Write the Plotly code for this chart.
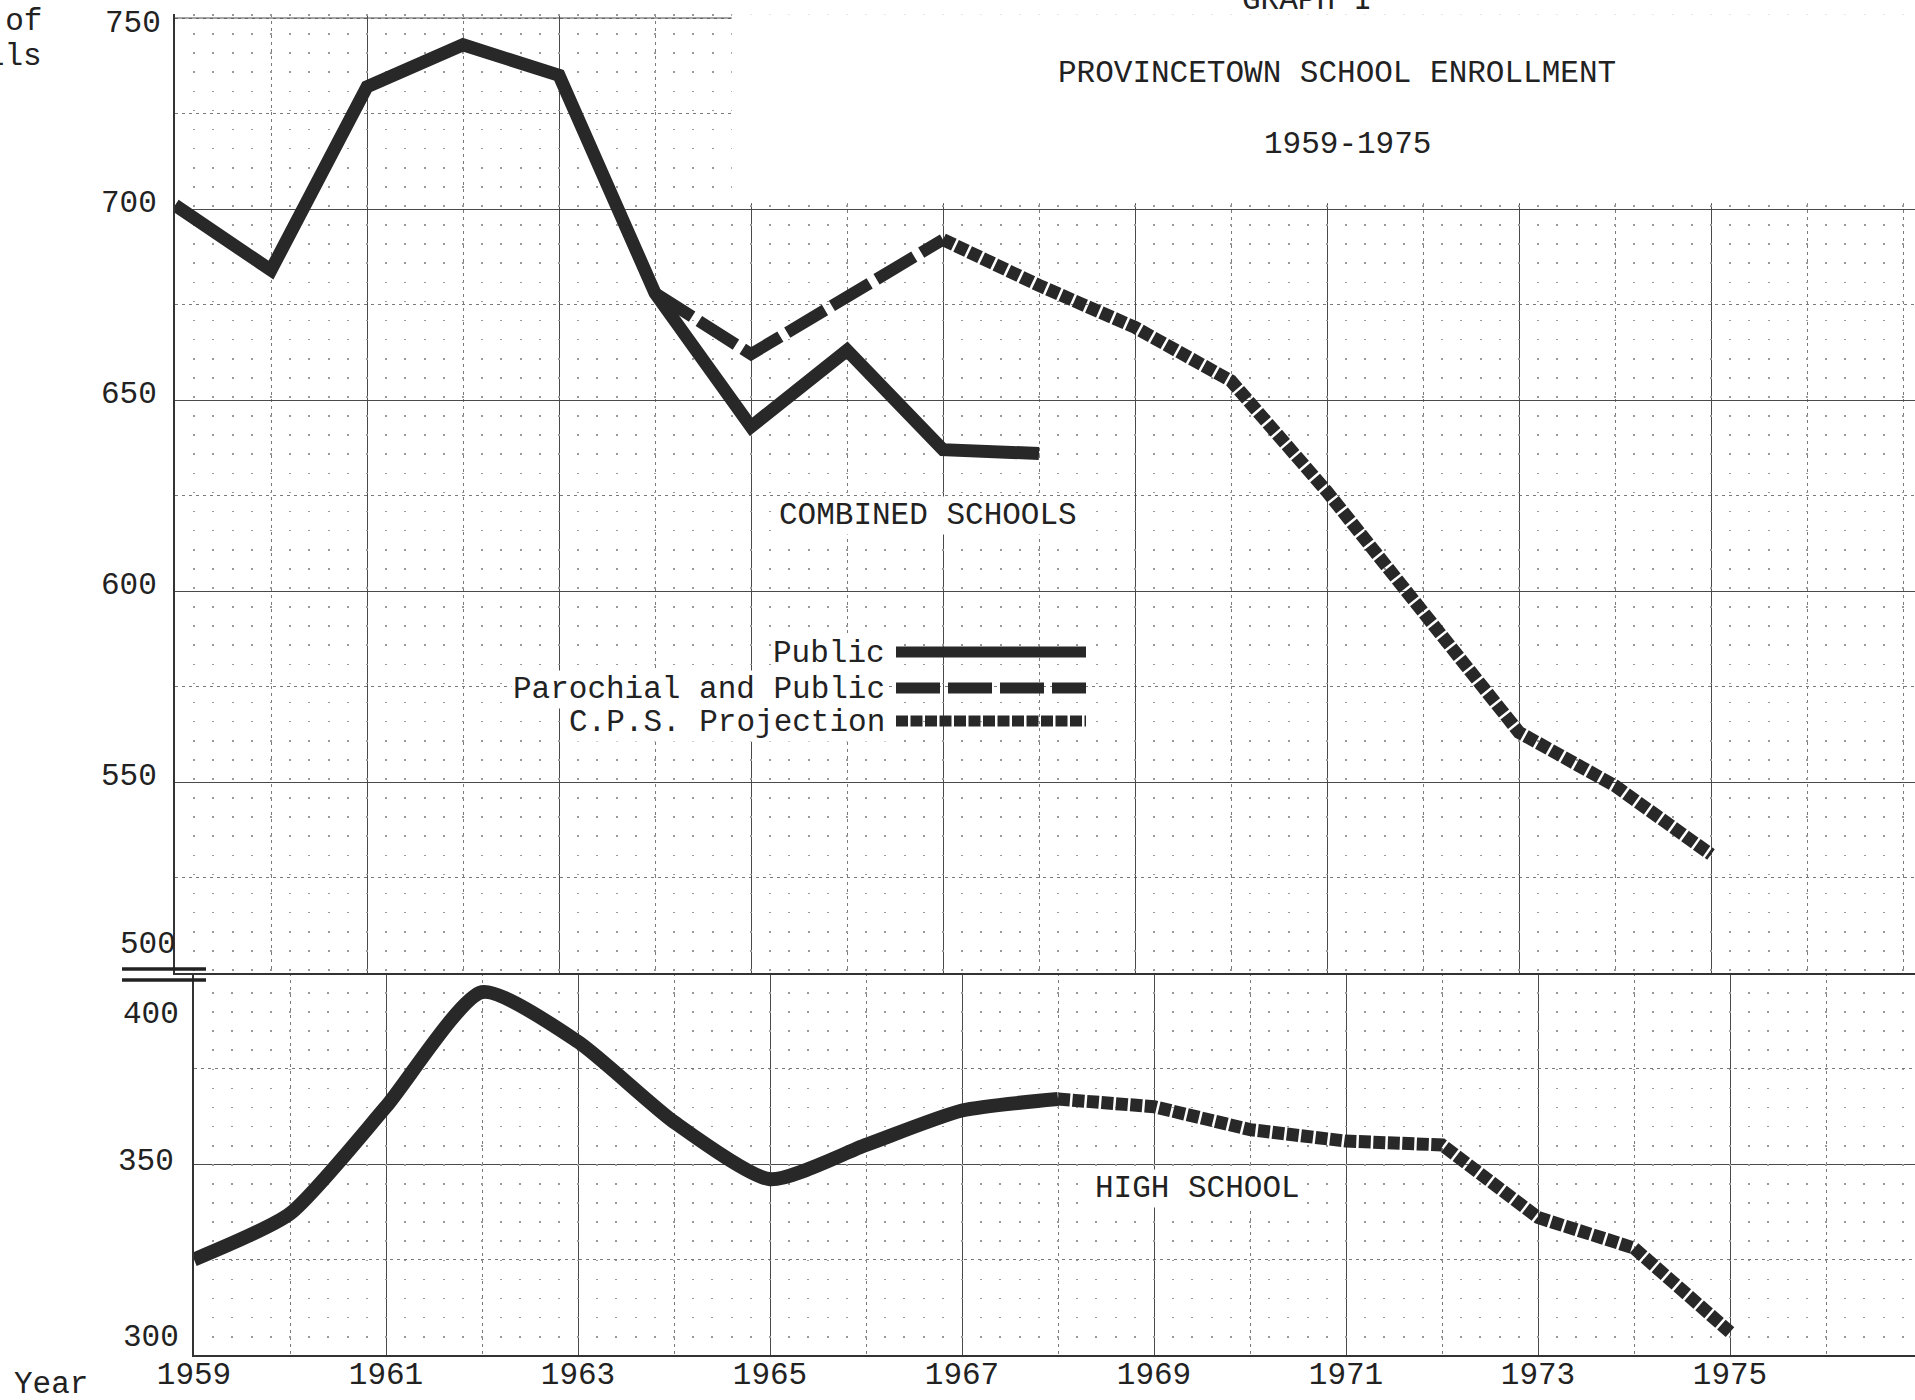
import plotly.graph_objects as go

# ---------------- data ----------------
years_public = [1959, 1960, 1961, 1962, 1963, 1964, 1965, 1966, 1967, 1968]
combined_public = [701, 684, 732, 743, 735, 678, 643, 663, 637, 636]

years_parochial = [1964, 1965, 1966, 1967]
combined_parochial = [678, 662, 677, 692]

years_proj_combined = [1967, 1968, 1969, 1970, 1971, 1972, 1973, 1974, 1975]
combined_projection = [692, 680, 669, 655, 626, 595, 563, 549, 531]

hs_public = [325, 337, 365, 395, 382, 361, 346, 355, 364, 367]

years_proj_hs = [1968, 1969, 1970, 1971, 1972, 1973, 1974, 1975]
hs_projection = [367, 365, 359, 356, 355, 336, 328, 306]

x_tick_vals = [1959, 1961, 1963, 1965, 1967, 1969, 1971, 1973, 1975]
x_tick_text = [str(v) for v in x_tick_vals]
top_tick_vals = [550, 600, 650, 700]
bottom_tick_vals = [350]
# labels typed next to the axis break / ends of the axes
edge_labels = ["750", "500", "400", "300"]

legend_labels = ["Public", "Parochial and Public", "C.P.S. Projection"]

# ---------------- layout helpers ----------------
W, H = 1915, 1400
FONT = "Liberation Mono"
INK = "#222222"
LINE = "#282828"


def px(x):
    return x / W


def py(y):
    return 1 - y / H


PX_PER_YEAR = 96.0
TOP_LEFT = 175
BOT_LEFT = 194
top_range_x = [1959, 1959 + (W - TOP_LEFT) / PX_PER_YEAR]
bot_range_x = [1959, 1959 + (W - BOT_LEFT) / PX_PER_YEAR]
PX_PER_UNIT = 3.82
BREAK_Y = 973
top_dom = [py(BREAK_Y), py(BREAK_Y - 251 * PX_PER_UNIT)]
bot_dom = [py(BREAK_Y + 100 * PX_PER_UNIT), py(BREAK_Y)]

DASH_PAROCHIAL = "44px,8px"
DASH_PROJ = "12px,2.5px"

fig = go.Figure()

# top panel: combined schools
fig.add_trace(go.Scatter(x=years_public, y=combined_public, mode="lines",
                         line=dict(color=LINE, width=13), xaxis="x2", yaxis="y",
                         showlegend=False))
fig.add_trace(go.Scatter(x=years_parochial, y=combined_parochial, mode="lines",
                         line=dict(color=LINE, width=12, dash=DASH_PAROCHIAL),
                         xaxis="x2", yaxis="y", showlegend=False))
fig.add_trace(go.Scatter(x=years_proj_combined, y=combined_projection, mode="lines",
                         line=dict(color=LINE, width=13, dash=DASH_PROJ),
                         xaxis="x2", yaxis="y", showlegend=False))

# bottom panel: high school
fig.add_trace(go.Scatter(x=years_public, y=hs_public, mode="lines",
                         line=dict(color=LINE, width=14, shape="spline", smoothing=0.6),
                         xaxis="x", yaxis="y2", showlegend=False))
fig.add_trace(go.Scatter(x=years_proj_hs, y=hs_projection, mode="lines",
                         line=dict(color=LINE, width=13, dash=DASH_PROJ),
                         xaxis="x", yaxis="y2", showlegend=False))

# empty traces so the dotted-grid overlay subplots exist
fig.add_trace(go.Scatter(x=[None], y=[None], xaxis="x4", yaxis="y", showlegend=False,
                         hoverinfo="skip"))
fig.add_trace(go.Scatter(x=[None], y=[None], xaxis="x3", yaxis="y2", showlegend=False,
                         hoverinfo="skip"))

major_grid = dict(showgrid=True, gridcolor="#4a4a4a", gridwidth=1.2, zeroline=False,
                  automargin=False)
dash_minor_x = dict(dtick=1, tick0=1959, showgrid=True, gridcolor="#7a7a7a",
                    gridwidth=1, griddash="3px,4px")
dash_minor_y = dict(dtick=25, tick0=300, showgrid=True, gridcolor="#7a7a7a",
                    gridwidth=1, griddash="3px,4px")
dot_grid = dict(showgrid=True, gridcolor="#9a9a9a", gridwidth=1.6,
                griddash="1.6px,17.5px", dtick=0.2, tick0=1959,
                showticklabels=False, ticks="", zeroline=False, showline=False,
                automargin=False)
tickfont = dict(family=FONT, size=31, color=INK)

fig.update_layout(
    width=W, height=H,
    margin=dict(l=0, r=0, t=0, b=0, pad=0, autoexpand=False),
    paper_bgcolor="white", plot_bgcolor="white",
    showlegend=False,
    xaxis=dict(domain=[px(BOT_LEFT), 1], range=bot_range_x, anchor="y2",
               tickmode="array", tickvals=x_tick_vals, ticktext=x_tick_text,
               tickfont=tickfont, ticks="", ticklabelstandoff=-10,
               showline=True, linecolor="#333333", linewidth=2,
               minor=dash_minor_x, **major_grid),
    xaxis2=dict(domain=[px(TOP_LEFT), 1], range=top_range_x, anchor="y",
                tickvals=x_tick_vals, showticklabels=False, ticks="",
                showline=True, linecolor="#333333", linewidth=2,
                minor=dash_minor_x, **major_grid),
    xaxis3=dict(overlaying="x", anchor="y2", range=bot_range_x, **dot_grid),
    xaxis4=dict(overlaying="x2", anchor="y", range=top_range_x, **dot_grid),
    yaxis=dict(domain=top_dom, range=[500, 751], anchor="x2",
               tickmode="array", tickvals=top_tick_vals, tickfont=tickfont,
               ticks="", ticklabelstandoff=10, ticklabelshift=-8,
               showline=True, linecolor="#333333", linewidth=2,
               minor=dict(dash_minor_y, tick0=500), dtick=50, **major_grid),
    yaxis2=dict(domain=bot_dom, range=[300, 400], anchor="x",
                tickmode="array", tickvals=bottom_tick_vals, tickfont=tickfont,
                ticks="", ticklabelstandoff=12, ticklabelshift=-5,
                showline=True, linecolor="#333333", linewidth=2,
                minor=dash_minor_y, **major_grid),
)

shapes = []
# blank title area (no graph paper there)
shapes.append(dict(type="rect", xref="x2", yref="y", x0=1964.8, x1=top_range_x[1] + 1,
                   y0=701.5, y1=760, fillcolor="white", line=dict(width=0),
                   layer="between"))
# major line at 750 across the left part (tick label shown as typed text)
shapes.append(dict(type="line", xref="x2", yref="y", x0=1959, x1=1964.8, y0=750, y1=750,
                   line=dict(color="#4a4a4a", width=1.2), layer="between"))
# axis break marks
for yb in (969, 980):
    shapes.append(dict(type="line", xref="paper", yref="paper", x0=px(122), x1=px(206),
                       y0=py(yb), y1=py(yb), line=dict(color=INK, width=3.5)))
# legend keys (drawn to the right of the labels, as in the original)
legend_rows = [(652, "solid"), (688, DASH_PAROCHIAL), (721, DASH_PROJ)]
for yk, dash in legend_rows:
    shapes.append(dict(type="line", xref="paper", yref="paper", x0=px(896), x1=px(1086),
                       y0=py(yk), y1=py(yk), line=dict(color=LINE, width=11, dash=dash),
                       layer="above"))
fig.update_layout(shapes=shapes)

ann = []


def text(s, x, y, xanchor="center", size=31, bg=None):
    d = dict(text=s, x=px(x), y=py(y), xref="paper", yref="paper", showarrow=False,
             xanchor=xanchor, yanchor="middle", font=dict(family=FONT, size=size, color=INK))
    if bg:
        d["bgcolor"] = bg
    ann.append(d)


text("GRAPH I", 1307, 0)
text("PROVINCETOWN SCHOOL ENROLLMENT", 1337, 74)
text("1959-1975", 1347, 145)
text("Number of", 44, 21, xanchor="right")
text("Pupils", 44, 57, xanchor="right")
text("Year", 51, 1384)
for lab, (xr, yc) in zip(edge_labels, [(163, 23), (178, 944), (181, 1014), (181, 1337)]):
    text(lab, xr, yc, xanchor="right")
text("COMBINED SCHOOLS", 928, 515, bg="white")
text("HIGH SCHOOL", 1197, 1188, bg="white")
for (yk, _), lab in zip(legend_rows, legend_labels):
    text(lab, 887, yk + 1, xanchor="right", bg="white")

fig.update_layout(annotations=ann)

fig.write_html("out.html",
               config={"displayModeBar": False},
               post_script="document.body.style.margin='0';document.body.style.overflow='hidden';")
